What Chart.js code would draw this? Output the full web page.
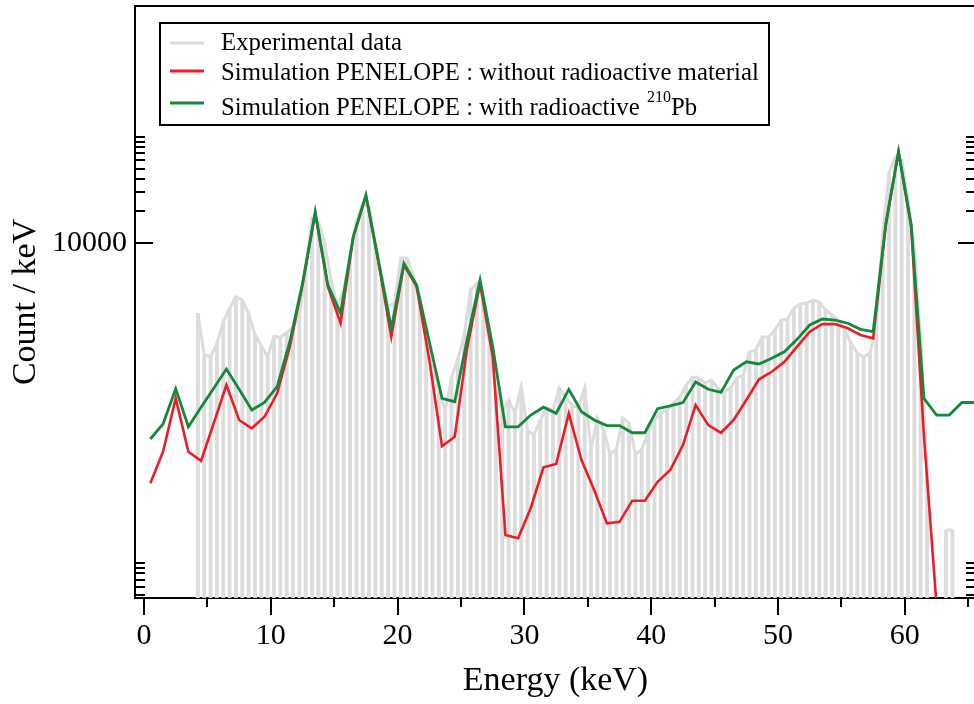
<!DOCTYPE html>
<html>
<head>
<meta charset="utf-8">
<script src="https://cdn.jsdelivr.net/npm/chart.js@4.4.1/dist/chart.umd.min.js"></script>
<style>
  html, body { margin: 0; padding: 0; background: #fff; overflow: hidden; }
  #wrap { position: relative; width: 980px; height: 704px; }
  canvas { display: block; }
</style>
</head>
<body>
<div id="wrap"><canvas id="c" width="980" height="704"></canvas></div>
<script>
// ---------- data ----------
const simEnergy = [
  0.5, 1.5, 2.5, 3.5, 4.5, 5.5, 6.5, 7.5, 8.5, 9.5,
  10.5, 11.5, 12.5, 13.5, 14.5, 15.5, 16.5, 17.5, 18.5, 19.5,
  20.5, 21.5, 22.5, 23.5, 24.5, 25.5, 26.5, 27.5, 28.5, 29.5,
  30.5, 31.5, 32.5, 33.5, 34.5, 35.5, 36.5, 37.5, 38.5, 39.5,
  40.5, 41.5, 42.5, 43.5, 44.5, 45.5, 46.5, 47.5, 48.5, 49.5,
  50.5, 51.5, 52.5, 53.5, 54.5, 55.5, 56.5, 57.5, 58.5, 59.5,
  60.5, 61.5, 62.5, 63.5, 64.5, 65.5
];
// Simulation PENELOPE : without radioactive material (red)
const simWithout = [
  56, 111, 352, 111, 91, 205, 469, 220, 184, 236,
  392, 1072, 4064, 19100, 3917, 1787, 11400, 28000, 6530, 1330,
  6252, 3917, 804, 125, 153, 1072, 4217, 863, 18.4, 17.1,
  32.9, 79.2, 85.1, 254, 92.7, 48.5, 23.6, 24.4, 38.5, 38.5,
  58, 74.7, 128, 304, 197, 167, 220, 339, 530, 624,
  774, 1072, 1483, 1750, 1745, 1594, 1380, 1285, 14860, 72300,
  14320, 159, 4.0, null, null, null
];
// Simulation PENELOPE : with radioactive 210Pb (green)
const simWith = [
  146, 202, 433, 190, 290, 437, 662, 427, 273, 322,
  452, 1194, 4217, 19770, 4064, 2218, 11530, 28380, 6715, 1594,
  6486, 4064, 1194, 352, 327, 1285, 4529, 1072, 190, 190,
  245, 290, 254, 427, 263, 220, 195, 195, 167, 167,
  281, 298, 320, 500, 427, 400, 647, 774, 738, 834,
  961, 1256, 1714, 1950, 1905, 1778, 1560, 1483, 15420, 72300,
  14860, 352, 245, 245, 321, 321
];
// Experimental data (0.5 keV channels)
const expEnergy = [
  4.25, 4.75, 5.25, 5.75, 6.25, 6.75, 7.25, 7.75, 8.25, 8.75,
  9.25, 9.75, 10.25, 10.75, 11.25, 11.75, 12.25, 12.75, 13.25, 13.75,
  14.25, 14.75, 15.25, 15.75, 16.25, 16.75, 17.25, 17.75, 18.25, 18.75,
  19.25, 19.75, 20.25, 20.75, 21.25, 21.75, 22.25, 22.75, 23.25, 23.75,
  24.25, 24.75, 25.25, 25.75, 26.25, 26.75, 27.25, 27.75, 28.25, 28.75,
  29.25, 29.75, 30.25, 30.75, 31.25, 31.75, 32.25, 32.75, 33.25, 33.75,
  34.25, 34.75, 35.25, 35.75, 36.25, 36.75, 37.25, 37.75, 38.25, 38.75,
  39.25, 39.75, 40.25, 40.75, 41.25, 41.75, 42.25, 42.75, 43.25, 43.75,
  44.25, 44.75, 45.25, 45.75, 46.25, 46.75, 47.25, 47.75, 48.25, 48.75,
  49.25, 49.75, 50.25, 50.75, 51.25, 51.75, 52.25, 52.75, 53.25, 53.75,
  54.25, 54.75, 55.25, 55.75, 56.25, 56.75, 57.25, 57.75, 58.25, 58.75,
  59.25, 59.75, 60.25, 60.75, 61.25, 61.75, 62.25, 62.75, 63.25, 63.75
];
const expCounts = [
  2203, 896, 863, 1153, 1841, 2455, 3155, 2938, 2203, 1380,
  1099, 863, 1336, 1306, 1455, 1622, 2125, 5232, 17180, 15850,
  10000, 4529, 2636, 3648, 7770, 15850, 23710, 22030, 10000, 4862,
  2541, 2735, 7280, 7280, 4862, 2938, 1538, 748, 420, 273,
  545, 830, 1380, 3648, 4217, 2938, 1110, 420, 261, 339,
  256, 449, 177, 159, 220, 285, 273, 440, 361, 304,
  285, 440, 117, 230, 177, 105, 117, 230, 206, 105,
  117, 166, 220, 256, 273, 318, 361, 469, 557, 545,
  489, 522, 440, 403, 440, 545, 581, 955, 998, 1321,
  1321, 1538, 1905, 1950, 2472, 2698, 2754, 2938, 2812, 2366,
  2125, 1905, 1538, 1161, 935, 857, 935, 1641, 11970, 45600,
  64400, 60400, 25470, 8650, 1239, 75, null, null, 20.5, 20.5
];
// axis ticks
const xTickValues = [0, 10, 20, 30, 40, 50, 60];
const xMinorTickValues = [5, 15, 25, 35, 45, 55, 65];
const yTickValues = [10000];
const yMinorTickValues = [5, 6, 7, 8, 9, 10, 20000, 30000, 40000, 50000, 60000, 70000, 80000, 90000, 100000];
// text
const legendLabels = [
  'Experimental data',
  'Simulation PENELOPE : without radioactive material',
  'Simulation PENELOPE : with radioactive ',
];
const legendSup = '210';
const legendTail = 'Pb';
const xTitle = 'Energy (keV)';
const yTitle = 'Count / keV';

// ---------- styles ----------
const SERIF = '"Liberation Serif", "Times New Roman", serif';
const GREY = '#dcdcdc';
const RED = '#ee1c25';
const GREEN = '#15893b';

const expPoints = expEnergy.map((e, i) => ({ x: e, y: expCounts[i] }));
const redPoints = simEnergy.map((e, i) => ({ x: e, y: simWithout[i] }));
const greenPoints = simEnergy.map((e, i) => ({ x: e, y: simWith[i] }));

const decor = {
  id: 'decor',
  afterDraw(chart) {
    const { ctx, chartArea: a, scales: { x, y } } = chart;
    ctx.save();
    ctx.strokeStyle = '#000';
    ctx.lineWidth = 2;
    ctx.lineCap = 'butt';
    ctx.beginPath();
    // frame: top and right
    ctx.moveTo(a.left - 1, a.top); ctx.lineTo(a.right + 1, a.top);
    ctx.moveTo(a.right, a.top); ctx.lineTo(a.right, a.bottom);
    // y ticks (inward, both sides)
    yTickValues.forEach(v => {
      const p = Math.round(y.getPixelForValue(v));
      ctx.moveTo(a.left, p); ctx.lineTo(a.left + 18, p);
      ctx.moveTo(a.right, p); ctx.lineTo(a.right - 18, p);
    });
    yMinorTickValues.forEach(v => {
      const p = Math.round(y.getPixelForValue(v));
      ctx.moveTo(a.left, p); ctx.lineTo(a.left + 10, p);
      ctx.moveTo(a.right, p); ctx.lineTo(a.right - 10, p);
    });
    // x ticks (outward)
    xTickValues.forEach(v => {
      const p = Math.round(x.getPixelForValue(v));
      ctx.moveTo(p, a.bottom); ctx.lineTo(p, a.bottom + 17);
    });
    xMinorTickValues.forEach(v => {
      const p = Math.round(x.getPixelForValue(v));
      ctx.moveTo(p, a.bottom); ctx.lineTo(p, a.bottom + 9);
    });
    ctx.stroke();

    // legend
    const L = { left: 160, top: 23, right: 769, bottom: 125 };
    ctx.fillStyle = '#fff';
    ctx.fillRect(L.left, L.top, L.right - L.left, L.bottom - L.top);
    ctx.lineWidth = 2;
    ctx.strokeStyle = '#000';
    ctx.strokeRect(L.left, L.top, L.right - L.left, L.bottom - L.top);
    const rows = [
      { y: 43, base: 50, color: GREY },
      { y: 71, base: 80, color: RED },
      { y: 103, base: 115, color: GREEN },
    ];
    rows.forEach((r, i) => {
      ctx.beginPath();
      ctx.strokeStyle = r.color;
      ctx.lineWidth = 3;
      ctx.moveTo(170, r.y); ctx.lineTo(204, r.y);
      ctx.stroke();
      ctx.fillStyle = '#000';
      ctx.font = '24.8px ' + SERIF;
      ctx.textBaseline = 'alphabetic';
      ctx.textAlign = 'left';
      ctx.fillText(legendLabels[i], 221, r.base);
      if (i === 2) {
        const w = ctx.measureText(legendLabels[i]).width;
        ctx.font = '16px ' + SERIF;
        ctx.fillText(legendSup, 221 + w + 1, r.base - 13);
        const ws = ctx.measureText(legendSup).width;
        ctx.font = '24.8px ' + SERIF;
        ctx.fillText(legendTail, 221 + w + ws + 1, r.base);
      }
    });
    ctx.restore();
  }
};

new Chart(document.getElementById('c'), {
  type: 'line',
  data: {
    datasets: [
      {
        type: 'bar',
        label: 'Experimental data (channels)',
        data: expPoints,
        backgroundColor: GREY,
        borderWidth: 0,
        barThickness: 3.2,
        order: 4,
      },
      {
        type: 'line',
        label: legendLabels[0],
        data: expPoints,
        borderColor: GREY,
        borderWidth: 3,
        pointRadius: 0,
        tension: 0,
        spanGaps: false,
        order: 3,
      },
      {
        type: 'line',
        label: legendLabels[1],
        data: redPoints,
        borderColor: RED,
        borderWidth: 2.6,
        pointRadius: 0,
        tension: 0,
        order: 2,
      },
      {
        type: 'line',
        label: legendLabels[2] + legendSup + legendTail,
        data: greenPoints,
        borderColor: GREEN,
        borderWidth: 2.8,
        pointRadius: 0,
        tension: 0,
        order: 1,
      },
    ]
  },
  options: {
    responsive: false,
    animation: false,
    devicePixelRatio: 1,
    layout: { padding: { top: 6, right: 4, left: 0, bottom: 0 } },
    plugins: { legend: { display: false }, tooltip: { enabled: false }, title: { display: false } },
    scales: {
      x: {
        type: 'linear',
        min: -0.71,
        max: 65.61,
        bounds: 'data',
        offset: false,
        border: { display: true, color: '#000', width: 2 },
        grid: { display: false, drawTicks: false, tickLength: 0 },
        ticks: {
          color: '#000',
          font: { family: SERIF, size: 30 },
          padding: 20,
          maxRotation: 0,
          autoSkip: false,
          callback: v => String(v),
        },
        afterBuildTicks: s => { s.ticks = xTickValues.map(v => ({ value: v })); },
        afterFit: s => { s.height = 106; s.paddingLeft = 0; s.paddingRight = 0; },
        title: {
          display: true, text: xTitle, color: '#000',
          font: { family: SERIF, size: 34 },
          padding: { top: 0, bottom: 3 },
        },
      },
      y: {
        type: 'logarithmic',
        min: 4.707,
        max: 1683000,
        bounds: 'data',
        border: { display: true, color: '#000', width: 2 },
        grid: { display: false, drawTicks: false, tickLength: 0 },
        ticks: {
          color: '#000',
          font: { family: SERIF, size: 30 },
          padding: 8,
          autoSkip: false,
          callback: v => String(v),
        },
        afterBuildTicks: s => { s.ticks = yTickValues.map(v => ({ value: v })); },
        afterFit: s => { s.width = 135; s.paddingTop = 0; s.paddingBottom = 0; },
        title: {
          display: true, text: yTitle, color: '#000',
          font: { family: SERIF, size: 34 },
          padding: { top: 6, bottom: 0 },
        },
      },
    },
  },
  plugins: [decor],
});
</script>
</body>
</html>
